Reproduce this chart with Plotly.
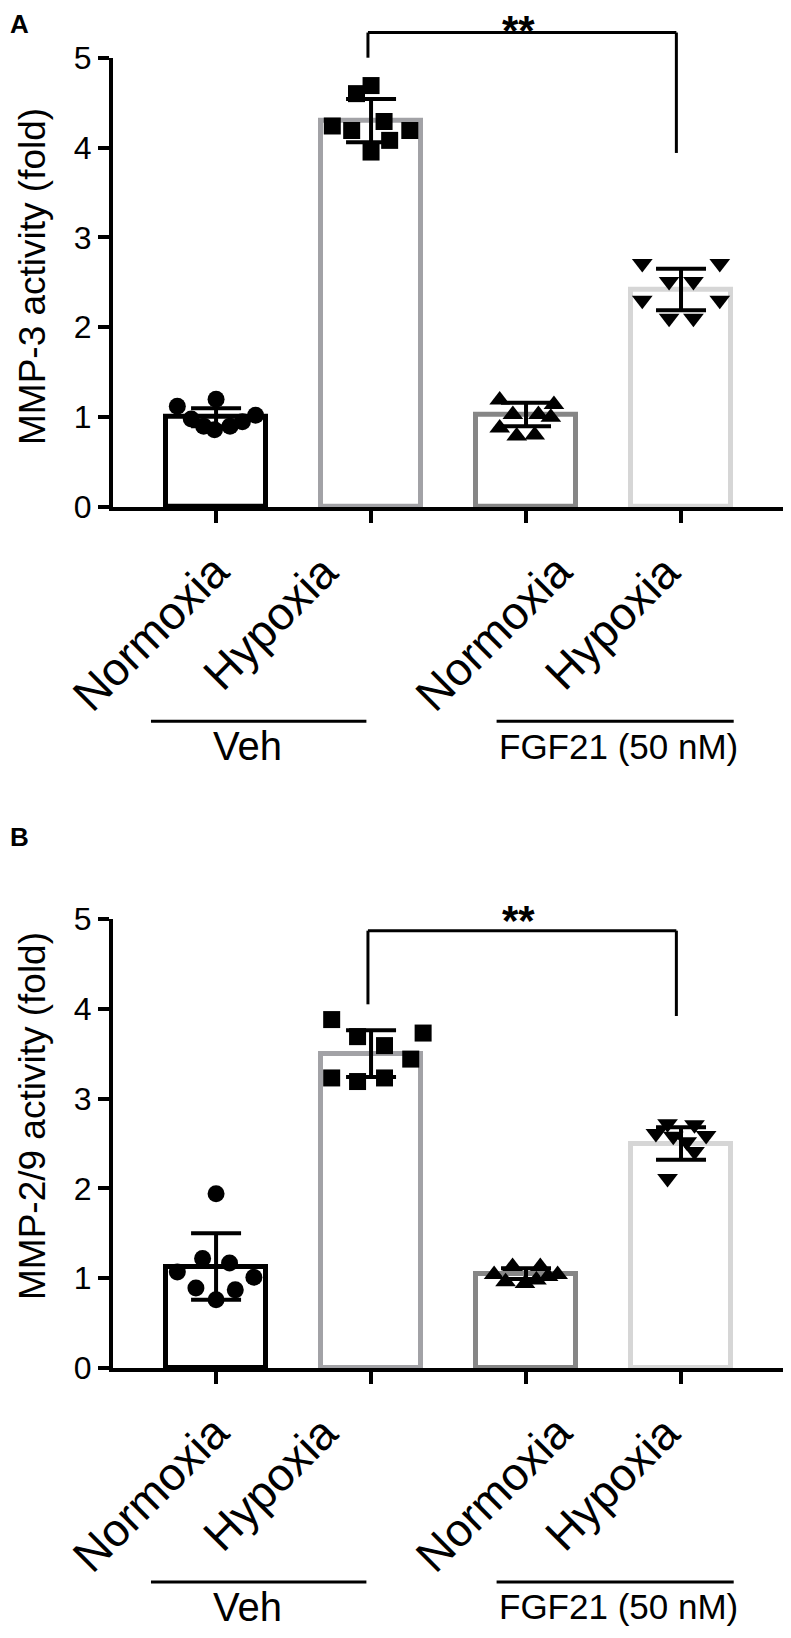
import plotly.graph_objects as go

# group labels (x ticks) and treatment labels under them
groups = ["Normoxia", "Hypoxia", "Normoxia", "Hypoxia"]
treatments = ["Veh", "FGF21 (50 nM)"]

# Panel A - MMP-3 activity (fold)
mmp3_mean = [1.00, 4.30, 1.03, 2.42]
mmp3_sd = [0.10, 0.24, 0.13, 0.23]
mmp3_pts = [
    [1.12, 1.20, 0.98, 0.90, 0.86, 0.90, 0.95, 1.02],
    [4.24, 4.19, 4.69, 4.60, 4.29, 4.08, 4.19, 3.95],
    [1.19, 1.14, 1.03, 1.03, 1.00, 0.88, 0.79, 0.80],
    [2.71, 2.71, 2.51, 2.51, 2.30, 2.30, 2.10, 2.10],
]
mmp3_jitter = [
    [-0.25, 0.0, -0.16, -0.08, -0.01, 0.09, 0.17, 0.255],
    [-0.25, -0.125, 0.0, -0.094, 0.084, 0.12, 0.25, 0.0],
    [-0.17, 0.18, -0.085, 0.08, 0.16, -0.17, -0.06, 0.056],
    [-0.25, 0.25, -0.077, 0.08, -0.25, 0.25, -0.077, 0.08],
]

# Panel B - MMP-2/9 activity (fold)
mmp29_mean = [1.13, 3.50, 1.05, 2.50]
mmp29_sd = [0.37, 0.26, 0.06, 0.18]
mmp29_pts = [
    [1.94, 1.22, 1.17, 1.07, 1.01, 0.89, 0.87, 0.76],
    [3.88, 3.69, 3.73, 3.59, 3.44, 3.23, 3.19, 3.23],
    [1.04, 1.13, 1.13, 1.04, 0.96, 0.94, 0.98, 1.02],
    [2.72, 2.71, 2.61, 2.58, 2.59, 2.52, 2.41, 2.11],
]
mmp29_jitter = [
    [0.0, -0.087, 0.087, -0.25, 0.244, -0.13, 0.124, 0.0],
    [-0.254, -0.087, 0.336, 0.087, 0.256, -0.254, -0.087, 0.087],
    [-0.206, -0.087, 0.092, 0.204, -0.132, -0.007, 0.067, 0.142],
    [-0.087, 0.087, -0.162, -0.05, 0.162, 0.037, 0.087, -0.087],
]

# significance brackets: (text, left bar, right bar, bar height, left drop, right drop, star y)
sig_a = ("**", 1, 3, 5.28, 5.00, 3.94, 5.50)
sig_b = ("**", 1, 3, 4.87, 4.05, 3.92, 5.18)

FONT = "Liberation Sans, Arial, sans-serif"
YMAX = 5
W, H = 775, 1622          # figure size; page body adds an 8px margin
edge_colors = ["#000000", "#a2a2a6", "#868686", "#d6d6d6"]
symbols = ["circle", "square", "triangle-up", "triangle-down"]
sizes = [17, 17, 18, 18]
label_dx = [0.161, -0.129, 0.374, 0.077]   # rotated tick labels are not evenly placed


def px(p):
    return (p - 8) / W


def py(p):
    return 1 - (p - 8) / H


fig = go.Figure()


def add_panel(fig, n, mean, sd, pts, jitter, ytitle, title_y, sig, letter, letter_y):
    xa = "x" if n == 1 else "x%d" % n
    ya = "y" if n == 1 else "y%d" % n
    fig.add_trace(go.Bar(
        x=list(range(len(mean))), y=mean, width=0.645,
        marker=dict(color="white", line=dict(color=edge_colors, width=5)),
        error_y=dict(type="data", array=sd, color="black", thickness=4, width=25),
        xaxis=xa, yaxis=ya, showlegend=False,
    ))
    for i, vals in enumerate(pts):
        fig.add_trace(go.Scatter(
            x=[i + j for j in jitter[i]], y=vals, mode="markers",
            marker=dict(symbol=symbols[i], size=sizes[i], color="black", line=dict(width=0)),
            xaxis=xa, yaxis=ya, showlegend=False, cliponaxis=False,
        ))

    yd = ya + " domain"
    # rotated group labels
    for i, g in enumerate(groups):
        fig.add_annotation(x=i + label_dx[i], y=-0.39 / YMAX, xref=xa, yref=yd, text=g,
                           textangle=-45, xanchor="right", yanchor="top", showarrow=False,
                           font=dict(family=FONT, size=46, color="black"))

    # significance bracket
    txt, x0, x1, yb, l0, r0, ys = sig
    for (sx0, sy0, sx1, sy1) in [(x0 - 0.02, yb, x1 - 0.03, yb),
                                 (x0 - 0.02, yb, x0 - 0.02, l0),
                                 (x1 - 0.03, yb, x1 - 0.03, r0)]:
        fig.add_shape(type="line", xref=xa, yref=yd,
                      x0=sx0, x1=sx1, y0=sy0 / YMAX, y1=sy1 / YMAX,
                      line=dict(color="black", width=3))
    fig.add_annotation(x=(x0 + x1) / 2 - 0.05, y=ys / YMAX, xref=xa, yref=yd,
                       text="<b>%s</b>" % txt, showarrow=False, yshift=8,
                       font=dict(family=FONT, size=42, color="black"))

    # treatment underlines + labels
    for (lx0, lx1, tx, anchor, fs, label) in [(-0.42, 0.97, 0.2, "center", 40, treatments[0]),
                                              (1.81, 3.34, 1.81, "left", 35, treatments[1])]:
        fig.add_shape(type="line", xref=xa, yref=yd, x0=lx0, x1=lx1,
                      y0=-2.383 / YMAX, y1=-2.383 / YMAX,
                      line=dict(color="black", width=3))
        fig.add_annotation(x=tx, y=-2.66 / YMAX, xref=xa, yref=yd, text=label,
                           xanchor=anchor, yanchor="middle", showarrow=False,
                           font=dict(family=FONT, size=fs, color="black"))

    # y title
    fig.add_annotation(x=px(32), y=title_y, xref="paper", yref="paper", text=ytitle,
                       textangle=-90, showarrow=False, xanchor="center", yanchor="middle",
                       font=dict(family=FONT, size=37, color="black"))
    # panel letter
    fig.add_annotation(x=px(19), y=letter_y, xref="paper", yref="paper",
                       text="<b>%s</b>" % letter, showarrow=False,
                       xanchor="center", yanchor="middle",
                       font=dict(family=FONT, size=26, color="black"))


add_panel(fig, 1, mmp3_mean, mmp3_sd, mmp3_pts, mmp3_jitter,
          "MMP-3 activity (fold)", py(277), sig_a, "A", py(24))
add_panel(fig, 2, mmp29_mean, mmp29_sd, mmp29_pts, mmp29_jitter,
          "MMP-2/9 activity (fold)", py(1116), sig_b, "B", py(837))

xaxis_style = dict(
    domain=[px(113), 1.0], range=[-0.665, 3.658], automargin=False,
    tickmode="array", tickvals=[0, 1, 2, 3], showticklabels=False,
    showline=True, linewidth=4, linecolor="black", ticks="outside",
    ticklen=12, tickwidth=4, tickcolor="black", showgrid=False, zeroline=False,
)
yaxis_style = dict(
    range=[0, YMAX], tickmode="array", tickvals=[0, 1, 2, 3, 4, 5], automargin=False,
    showline=True, linewidth=4, linecolor="black", ticks="outside",
    ticklen=11, tickwidth=4, tickcolor="black", showgrid=False, zeroline=False,
    tickfont=dict(family=FONT, size=32, color="black"),
)

fig.update_layout(
    width=W, height=H,
    margin=dict(l=0, r=0, t=0, b=0, autoexpand=False),
    paper_bgcolor="white", plot_bgcolor="white",
    xaxis=dict(xaxis_style, anchor="y"),
    yaxis=dict(yaxis_style, anchor="x", domain=[py(507), py(57.7)]),
    xaxis2=dict(xaxis_style, anchor="y2"),
    yaxis2=dict(yaxis_style, anchor="x2", domain=[py(1368), py(919)]),
    bargap=0,
)

fig.write_html("out.html")
